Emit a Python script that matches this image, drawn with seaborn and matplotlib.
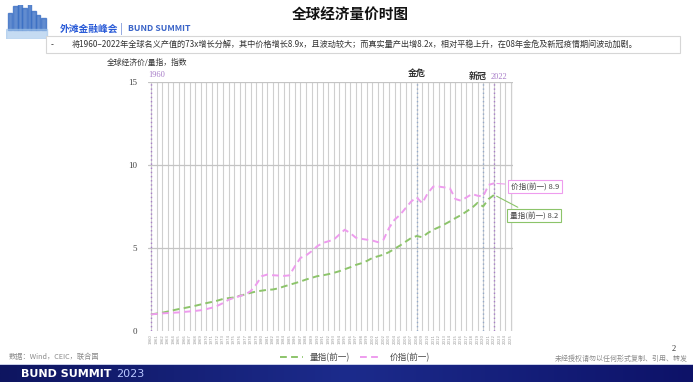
import matplotlib
matplotlib.use("Agg")

import matplotlib.pyplot as plt
import numpy as np
import pandas as pd
import seaborn as sns
from matplotlib.patches import Rectangle

years = list(range(1960, 2023))

# 价指 (price index, 1960 = 1)
price_idx = [
    1.00, 1.03, 1.06, 1.08, 1.10, 1.12, 1.15, 1.18, 1.21, 1.25,
    1.32, 1.40, 1.52, 1.68, 1.88, 2.00, 2.10, 2.20, 2.40, 2.80,
    3.30, 3.40, 3.36, 3.34, 3.32, 3.35, 3.90, 4.40, 4.55, 4.80,
    5.10, 5.30, 5.40, 5.50, 5.80, 6.10, 5.90, 5.62, 5.55, 5.50,
    5.45, 5.35, 5.50, 6.20, 6.70, 7.00, 7.40, 7.80, 8.05, 7.70,
    8.30, 8.70, 8.70, 8.65, 8.60, 7.95, 7.85, 8.05, 8.25, 8.15,
    8.10, 8.80, 8.90,
]

# 量指 (volume index, 1960 = 1)
volume_idx = [
    1.00, 1.05, 1.10, 1.17, 1.25, 1.32, 1.38, 1.45, 1.52, 1.60,
    1.68, 1.75, 1.83, 1.93, 1.98, 2.02, 2.12, 2.20, 2.30, 2.38,
    2.43, 2.48, 2.50, 2.57, 2.68, 2.78, 2.88, 2.98, 3.10, 3.20,
    3.30, 3.35, 3.42, 3.50, 3.60, 3.72, 3.84, 3.98, 4.08, 4.22,
    4.40, 4.50, 4.60, 4.75, 4.95, 5.15, 5.38, 5.60, 5.72, 5.65,
    5.90, 6.10, 6.25, 6.42, 6.60, 6.80, 6.98, 7.20, 7.42, 7.72,
    7.50, 7.95, 8.20,
]

tick_years = list(range(1960, 2026))
event_years = {"金危": 2008, "新冠": 2020}

vol_label = "量指(前一)"
price_label = "价指(前一)"

GREEN = "#8cc46a"
PINK = "#ee9cee"
PURPLE = "#a77cc8"
EVENT = "#93a9c9"
GRID = "#cfcfcf"

df = pd.DataFrame({"year": years, vol_label: volume_idx, price_label: price_idx})

sns.set_theme(style="white")
plt.rcParams["font.family"] = ["Noto Sans CJK SC", "DejaVu Sans"]

fig = plt.figure(figsize=(7.0, 3.86), dpi=100)
fig.patch.set_facecolor("white")

# ---- slide header ----
fig.text(0.5, 0.965, "全球经济量价时图", ha="center", va="center",
         fontsize=10.5, fontweight="bold", color="#111111")

# rough skyline logo
logo = fig.add_axes([0.008, 0.9, 0.07, 0.088])
logo.set_xlim(0, 10)
logo.set_ylim(0, 10)
logo.axis("off")
for bx, bw, bh in [(0.5, 0.9, 5), (1.5, 1.0, 7), (2.6, 0.7, 9.5), (3.4, 1.0, 6.5),
                   (4.5, 0.6, 8.5), (5.2, 1.0, 5.5), (6.3, 0.8, 4.5), (7.2, 1.0, 3.5)]:
    logo.add_patch(Rectangle((bx, 2.5), bw, bh, color="#3b6fc4", alpha=0.8))
logo.add_patch(Rectangle((0, 0), 8.5, 2.7, color="#9fc3ea", alpha=0.6))

fig.text(0.086, 0.925, "外滩金融峰会", ha="left", va="center", fontsize=7,
         fontweight="bold", color="#2a5bd7")
fig.text(0.171, 0.925, "|", ha="left", va="center", fontsize=7, color="#5a7bd0")
fig.text(0.183, 0.925, "BUND SUMMIT", ha="left", va="center", fontsize=6.3,
         fontweight="bold", color="#3a64c8")

fig.patches.append(Rectangle((0.065, 0.862), 0.907, 0.046, transform=fig.transFigure,
                             facecolor="white", edgecolor="#d6d6d6", lw=0.8))
fig.text(0.072, 0.885, "-", ha="left", va="center", fontsize=6, color="#333333")
fig.text(0.103, 0.885,
         "将1960–2022年全球名义产值的73x增长分解，其中价格增长8.9x，且波动较大；"
         "而真实量产出增8.2x，相对平稳上升，在08年金危及新冠疫情期间波动加剧。",
         ha="left", va="center", fontsize=5.9, color="#333333")

fig.text(0.152, 0.838, "全球经济价/量指，指数", ha="left", va="center",
         fontsize=5.6, color="#333333")

# ---- chart ----
ax = fig.add_axes([0.2114, 0.1425, 0.5214, 0.6451])
ax.set_xlim(1959.45, 2025.4)
ax.set_ylim(0, 15)

for yr in tick_years:
    ax.axvline(yr, color=GRID, lw=0.8, zorder=0)
for yv in [5, 10, 15]:
    ax.axhline(yv, color="#c4c4c4", lw=0.9, zorder=0)
ax.axvline(2025.4, color="#bdbdbd", lw=0.9, zorder=0)

for yr in (years[0], years[-1]):
    ax.axvline(yr, color=PURPLE, lw=1.0, ls=(0, (1, 2)), zorder=1)
for yr in event_years.values():
    ax.axvline(yr, color=EVENT, lw=1.0, ls=(0, (1, 2)), zorder=1)

sns.lineplot(data=df, x="year", y=vol_label, ax=ax, color=GREEN, lw=1.4,
             linestyle=(0, (3.5, 2.2)), label=vol_label, zorder=3)
sns.lineplot(data=df, x="year", y=price_label, ax=ax, color=PINK, lw=1.4,
             linestyle=(0, (3.5, 2.2)), label=price_label, zorder=3)

ax.set_xlabel("")
ax.set_ylabel("")
ax.set_xticks(tick_years)
ax.set_xticklabels([str(y) for y in tick_years], rotation=90, fontsize=2.8,
                   color="#9a9a9a", family="DejaVu Sans")
ax.set_yticks([0, 5, 10, 15])
ax.set_yticklabels(["0", "5", "10", "15"], fontsize=6.5, color="#444444",
                   family="Liberation Serif")
ax.tick_params(axis="both", length=0, pad=2)
ax.tick_params(axis="y", pad=8)
for s in ax.spines.values():
    s.set_visible(False)

ax.text(years[0] - 0.5, 15.2, str(years[0]), ha="left", va="bottom", fontsize=6,
        color=PURPLE, family="Liberation Serif")
ax.text(years[-1] + 0.9, 15.05, str(years[-1]), ha="center", va="bottom", fontsize=6,
        color=PURPLE, family="Liberation Serif")
ax.text(event_years["金危"], 15.25, "金危", ha="center", va="bottom", fontsize=6.5,
        fontweight="bold", color="#333333")
ax.text(event_years["新冠"] - 0.9, 15.05, "新冠", ha="center", va="bottom", fontsize=6.5,
        fontweight="bold", color="#333333")

ax.annotate(f"{price_label} {price_idx[-1]:.1f}", xy=(years[-1], price_idx[-1]),
            xytext=(2025.0, 8.72), ha="left", va="center", fontsize=5.5,
            color="#444444", annotation_clip=False,
            bbox=dict(boxstyle="square,pad=0.35", fc="white", ec=PINK, lw=0.8),
            arrowprops=dict(arrowstyle="-", color=PINK, lw=0.8))
ax.annotate(f"{vol_label} {volume_idx[-1]:.1f}", xy=(years[-1], volume_idx[-1]),
            xytext=(2024.8, 6.95), ha="left", va="center", fontsize=5.5,
            color="#444444", annotation_clip=False,
            bbox=dict(boxstyle="square,pad=0.35", fc="white", ec=GREEN, lw=0.8),
            arrowprops=dict(arrowstyle="-", color=GREEN, lw=0.8))

ax.legend(loc="center", bbox_to_anchor=(0.507, 0.073), bbox_transform=fig.transFigure,
          ncol=2, frameon=False, fontsize=6.2, handlelength=2.6, columnspacing=1.2,
          labelcolor="#444444")

# ---- footer ----
fig.text(0.012, 0.075, "数据：Wind，CEIC，联合国", ha="left", va="center",
         fontsize=5.2, color="#8a8a8a")
fig.text(0.962, 0.095, "2", ha="center", va="center", fontsize=6, color="#333333",
         family="Liberation Serif")
fig.text(0.983, 0.071, "未经授权请勿以任何形式复制、引用、转发", ha="right", va="center",
         fontsize=5, color="#8a8a8a")

band = fig.add_axes([0.0, 0.01, 0.99, 0.044])
grad = np.linspace(0, 1, 256).reshape(1, -1)
band.imshow(grad, aspect="auto", extent=(0, 1, 0, 1),
            cmap=matplotlib.colors.LinearSegmentedColormap.from_list(
                "band", ["#0e1560", "#1c2b8c", "#0d1268"]))
band.axis("off")
band.text(0.03, 0.5, "BUND SUMMIT", ha="left", va="center", fontsize=8,
          fontweight="bold", color="white", family="DejaVu Sans")
band.text(0.168, 0.5, "2023", ha="left", va="center", fontsize=8,
          color="#b9c7ff", family="DejaVu Sans")
fig.patches.append(Rectangle((0.0, 0.054), 0.99, 0.004, transform=fig.transFigure,
                             facecolor="#c9cfe8", edgecolor="none"))

fig.savefig("out.png", dpi=100, facecolor="white")
